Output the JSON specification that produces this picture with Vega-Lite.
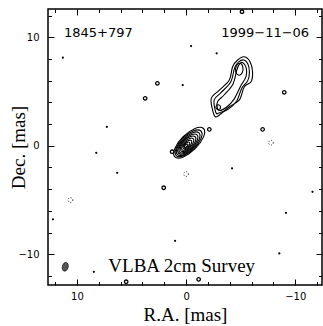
{
  "$schema": "https://vega.github.io/schema/vega-lite/v6.json",
  "width": 274,
  "height": 276,
  "autosize": "none",
  "padding": {"left": 48, "top": 9, "right": 1, "bottom": 41},
  "background": "white",
  "config": {
    "view": {"stroke": "black", "strokeWidth": 1.5},
    "axis": {"domain": false, "grid": false, "tickColor": "black", "tickWidth": 1, "labelFont": "DejaVu Sans", "labelFontSize": 10, "labelColor": "black", "titleFont": "Liberation Serif", "titleFontSize": 19, "titleFontWeight": "normal", "titleColor": "black"}
  },
  "datasets": {
    "contours": [
      {"c":"k1","i":0,"x":-0.14,"y":0.14},{"c":"k1","i":1,"x":-0.05,"y":0.15},{"c":"k1","i":2,"x":0.07,"y":0.07},{"c":"k1","i":3,"x":0.15,"y":-0.05},{"c":"k1","i":4,"x":0.14,"y":-0.14},{"c":"k1","i":5,"x":0.05,"y":-0.15},{"c":"k1","i":6,"x":-0.07,"y":-0.07},{"c":"k1","i":7,"x":-0.15,"y":0.05},
      {"c":"k2","i":0,"x":-0.31,"y":0.31},{"c":"k2","i":1,"x":-0.14,"y":0.32},{"c":"k2","i":2,"x":0.10,"y":0.16},{"c":"k2","i":3,"x":0.26,"y":-0.08},{"c":"k2","i":4,"x":0.25,"y":-0.25},{"c":"k2","i":5,"x":0.08,"y":-0.26},{"c":"k2","i":6,"x":-0.16,"y":-0.10},{"c":"k2","i":7,"x":-0.32,"y":0.14},
      {"c":"k3","i":0,"x":-0.48,"y":0.48},{"c":"k3","i":1,"x":-0.22,"y":0.49},{"c":"k3","i":2,"x":0.13,"y":0.25},{"c":"k3","i":3,"x":0.38,"y":-0.11},{"c":"k3","i":4,"x":0.37,"y":-0.37},{"c":"k3","i":5,"x":0.11,"y":-0.38},{"c":"k3","i":6,"x":-0.25,"y":-0.13},{"c":"k3","i":7,"x":-0.49,"y":0.22},
      {"c":"k4","i":0,"x":-0.65,"y":0.65},{"c":"k4","i":1,"x":-0.31,"y":0.67},{"c":"k4","i":2,"x":0.17,"y":0.34},{"c":"k4","i":3,"x":0.50,"y":-0.14},{"c":"k4","i":4,"x":0.48,"y":-0.48},{"c":"k4","i":5,"x":0.14,"y":-0.50},{"c":"k4","i":6,"x":-0.34,"y":-0.17},{"c":"k4","i":7,"x":-0.67,"y":0.31},
      {"c":"k5","i":0,"x":-0.83,"y":0.83},{"c":"k5","i":1,"x":-0.40,"y":0.85},{"c":"k5","i":2,"x":0.20,"y":0.44},{"c":"k5","i":3,"x":0.61,"y":-0.16},{"c":"k5","i":4,"x":0.59,"y":-0.59},{"c":"k5","i":5,"x":0.16,"y":-0.61},{"c":"k5","i":6,"x":-0.44,"y":-0.20},{"c":"k5","i":7,"x":-0.85,"y":0.40},
      {"c":"k6","i":0,"x":-1.00,"y":1.00},{"c":"k6","i":1,"x":-0.49,"y":1.02},{"c":"k6","i":2,"x":0.22,"y":0.53},{"c":"k6","i":3,"x":0.71,"y":-0.18},{"c":"k6","i":4,"x":0.69,"y":-0.69},{"c":"k6","i":5,"x":0.18,"y":-0.71},{"c":"k6","i":6,"x":-0.53,"y":-0.22},{"c":"k6","i":7,"x":-1.02,"y":0.49},
      {"c":"k7","i":0,"x":-1.18,"y":1.18},{"c":"k7","i":1,"x":-0.59,"y":1.20},{"c":"k7","i":2,"x":0.24,"y":0.62},{"c":"k7","i":3,"x":0.82,"y":-0.21},{"c":"k7","i":4,"x":0.80,"y":-0.80},{"c":"k7","i":5,"x":0.21,"y":-0.82},{"c":"k7","i":6,"x":-0.62,"y":-0.24},{"c":"k7","i":7,"x":-1.20,"y":0.59},
      {"c":"k8","i":0,"x":-1.36,"y":1.36},{"c":"k8","i":1,"x":-0.69,"y":1.38},{"c":"k8","i":2,"x":0.26,"y":0.72},{"c":"k8","i":3,"x":0.91,"y":-0.22},{"c":"k8","i":4,"x":0.90,"y":-0.90},{"c":"k8","i":5,"x":0.22,"y":-0.91},{"c":"k8","i":6,"x":-0.72,"y":-0.26},{"c":"k8","i":7,"x":-1.38,"y":0.69},
      {"c":"k9","i":0,"x":-1.59,"y":1.59},{"c":"k9","i":1,"x":-0.82,"y":1.60},{"c":"k9","i":2,"x":0.27,"y":0.83},{"c":"k9","i":3,"x":1.03,"y":-0.25},{"c":"k9","i":4,"x":1.03,"y":-1.03},{"c":"k9","i":5,"x":0.25,"y":-1.03},{"c":"k9","i":6,"x":-0.83,"y":-0.27},{"c":"k9","i":7,"x":-1.60,"y":0.82},
      {"c":"j1","i":0,"x":-5.33,"y":8.20},{"c":"j1","i":1,"x":-5.86,"y":7.74},{"c":"j1","i":2,"x":-6.09,"y":6.82},{"c":"j1","i":3,"x":-5.95,"y":5.90},{"c":"j1","i":4,"x":-5.33,"y":5.44},{"c":"j1","i":5,"x":-4.88,"y":4.22},{"c":"j1","i":6,"x":-3.96,"y":3.59},{"c":"j1","i":7,"x":-3.05,"y":2.83},{"c":"j1","i":8,"x":-2.68,"y":2.67},{"c":"j1","i":9,"x":-2.43,"y":3.29},{"c":"j1","i":10,"x":-2.31,"y":4.37},{"c":"j1","i":11,"x":-3.05,"y":5.13},{"c":"j1","i":12,"x":-3.96,"y":6.06},{"c":"j1","i":13,"x":-4.26,"y":7.28},{"c":"j1","i":14,"x":-4.72,"y":7.90},
      {"c":"j2","i":0,"x":-5.30,"y":7.90},{"c":"j2","i":1,"x":-5.65,"y":7.55},{"c":"j2","i":2,"x":-5.80,"y":6.80},{"c":"j2","i":3,"x":-5.65,"y":6.00},{"c":"j2","i":4,"x":-5.10,"y":5.30},{"c":"j2","i":5,"x":-4.65,"y":4.15},{"c":"j2","i":6,"x":-3.85,"y":3.35},{"c":"j2","i":7,"x":-3.05,"y":3.05},{"c":"j2","i":8,"x":-2.80,"y":2.95},{"c":"j2","i":9,"x":-2.65,"y":3.35},{"c":"j2","i":10,"x":-2.58,"y":4.25},{"c":"j2","i":11,"x":-3.20,"y":4.90},{"c":"j2","i":12,"x":-4.10,"y":5.90},{"c":"j2","i":13,"x":-4.45,"y":7.20},{"c":"j2","i":14,"x":-4.85,"y":7.75},
      {"c":"j3","i":0,"x":-5.20,"y":7.65},{"c":"j3","i":1,"x":-5.50,"y":7.20},{"c":"j3","i":2,"x":-5.50,"y":6.40},{"c":"j3","i":3,"x":-5.00,"y":5.50},{"c":"j3","i":4,"x":-4.40,"y":4.30},{"c":"j3","i":5,"x":-3.70,"y":3.55},{"c":"j3","i":6,"x":-3.05,"y":3.25},{"c":"j3","i":7,"x":-2.85,"y":3.55},{"c":"j3","i":8,"x":-2.90,"y":4.10},{"c":"j3","i":9,"x":-3.50,"y":4.70},{"c":"j3","i":10,"x":-4.30,"y":5.70},{"c":"j3","i":11,"x":-4.65,"y":7.00},{"c":"j3","i":12,"x":-4.90,"y":7.55},
      {"c":"j4","i":0,"x":-4.95,"y":7.60},{"c":"j4","i":1,"x":-5.20,"y":7.25},{"c":"j4","i":2,"x":-5.15,"y":6.75},{"c":"j4","i":3,"x":-4.85,"y":6.50},{"c":"j4","i":4,"x":-4.55,"y":6.80},{"c":"j4","i":5,"x":-4.60,"y":7.35},
      {"c":"j5","i":0,"x":-2.95,"y":3.78},{"c":"j5","i":1,"x":-3.15,"y":3.60},{"c":"j5","i":2,"x":-3.05,"y":3.35},{"c":"j5","i":3,"x":-2.80,"y":3.40},{"c":"j5","i":4,"x":-2.75,"y":3.65}
    ],
    "loops": [
      {"x":-5.12,"y":12.35},{"x":2.63,"y":5.75},{"x":3.75,"y":4.37},{"x":-8.99,"y":4.92},{"x":2.05,"y":-3.87},{"x":5.49,"y":-12.53},{"x":-1.15,"y":-12.31},{"x":-2.13,"y":1.51},{"x":1.28,"y":-0.55},{"x":-7.01,"y":1.51}
    ],
    "dots": [
      {"x":11.29,"y":8.11},{"x":-0.46,"y":9.19},{"x":-2.8,"y":8.52},{"x":0.31,"y":5.59},{"x":7.26,"y":1.75},{"x":8.23,"y":-0.65},{"x":6.31,"y":-2.49},{"x":-4.21,"y":-2.08},{"x":-11.58,"y":-4.24},{"x":-9.15,"y":-6.18},{"x":1.01,"y":-8.76},{"x":-8.54,"y":-9.92},{"x":8.45,"y":-11.61},{"x":12.2,"y":-6.78}
    ],
    "neg": [
      {"x":0.0,"y":-2.61},{"x":10.59,"y":-5.0},{"x":-7.78,"y":0.28}
    ],
    "heads": [
      {"x":8.04,"y":10.0,"text":"1845+797"},{"x":-7.24,"y":10.0,"text":"1999−11−06"}
    ],
    "survey": [
      {"x":0.4,"y":-11.61,"text":"VLBA 2cm Survey"}
    ],
    "beam": [
      {"x":11.07,"y":-11.15}
    ]
  },
  "layer": [
    {
      "data": {"name": "contours"},
      "mark": {"type": "line", "interpolate": "cardinal-closed", "stroke": "black", "strokeWidth": 1.1},
      "encoding": {
        "x": {"field": "x", "type": "quantitative", "scale": {"domain": [-12.45, 12.65], "reverse": true, "nice": false, "zero": false},
              "axis": {"orient": "bottom", "values": [-10, 0, 10], "tickSize": -6, "labelPadding": 12, "title": "R.A. [mas]", "titlePadding": 4}},
        "y": {"field": "y", "type": "quantitative", "scale": {"domain": [-12.83, 12.6], "nice": false, "zero": false},
              "axis": {"orient": "left", "values": [-10, 0, 10], "tickSize": -6, "labelPadding": 15, "title": "Dec. [mas]", "titlePadding": -11}},
        "detail": {"field": "c"},
        "order": {"field": "i", "type": "quantitative"}
      }
    },
    {
      "data": {"name": "loops"},
      "mark": {"type": "point", "shape": "circle", "filled": false, "stroke": "black", "strokeWidth": 1.3, "opacity": 1, "size": 12},
      "encoding": {
        "x": {"field": "x", "type": "quantitative", "scale": {"domain": [-12.45, 12.65], "reverse": true, "nice": false, "zero": false},
              "axis": {"orient": "top", "values": [-10, 0, 10], "tickSize": -6, "labels": false, "title": null}},
        "y": {"field": "y", "type": "quantitative", "scale": {"domain": [-12.83, 12.6], "nice": false, "zero": false},
              "axis": {"orient": "right", "values": [-10, 0, 10], "tickSize": -6, "labels": false, "title": null}}
      }
    },
    {
      "data": {"name": "dots"},
      "mark": {"type": "point", "shape": "circle", "filled": true, "fill": "black", "opacity": 1, "size": 5},
      "encoding": {
        "x": {"field": "x", "type": "quantitative", "scale": {"domain": [-12.45, 12.65], "reverse": true, "nice": false, "zero": false},
              "axis": {"orient": "bottom", "values": [-12, -8, -6, -4, -2, 2, 4, 6, 8, 12], "tickSize": -3.5, "labels": false, "title": null}},
        "y": {"field": "y", "type": "quantitative", "scale": {"domain": [-12.83, 12.6], "nice": false, "zero": false},
              "axis": {"orient": "left", "values": [-12, -8, -6, -4, -2, 2, 4, 6, 8, 12], "tickSize": -3.5, "labels": false, "title": null}}
      }
    },
    {
      "data": {"name": "neg"},
      "mark": {"type": "point", "shape": "circle", "filled": false, "stroke": "black", "strokeWidth": 0.8, "strokeDash": [1, 1.5], "opacity": 1, "size": 22},
      "encoding": {
        "x": {"field": "x", "type": "quantitative", "scale": {"domain": [-12.45, 12.65], "reverse": true, "nice": false, "zero": false},
              "axis": {"orient": "top", "values": [-12, -8, -6, -4, -2, 2, 4, 6, 8, 12], "tickSize": -3.5, "labels": false, "title": null}},
        "y": {"field": "y", "type": "quantitative", "scale": {"domain": [-12.83, 12.6], "nice": false, "zero": false},
              "axis": {"orient": "right", "values": [-12, -8, -6, -4, -2, 2, 4, 6, 8, 12], "tickSize": -3.5, "labels": false, "title": null}}
      }
    },
    {
      "data": {"name": "heads"},
      "mark": {"type": "text", "font": "DejaVu Sans", "fontSize": 13, "align": "center", "baseline": "alphabetic", "color": "black"},
      "encoding": {
        "x": {"field": "x", "type": "quantitative", "scale": {"domain": [-12.45, 12.65], "reverse": true, "nice": false, "zero": false}, "axis": null},
        "y": {"field": "y", "type": "quantitative", "scale": {"domain": [-12.83, 12.6], "nice": false, "zero": false}, "axis": null},
        "text": {"field": "text"}
      }
    },
    {
      "data": {"name": "survey"},
      "mark": {"type": "text", "font": "Liberation Serif", "fontSize": 19, "align": "center", "baseline": "alphabetic", "color": "black"},
      "encoding": {
        "x": {"field": "x", "type": "quantitative", "scale": {"domain": [-12.45, 12.65], "reverse": true, "nice": false, "zero": false}, "axis": null},
        "y": {"field": "y", "type": "quantitative", "scale": {"domain": [-12.83, 12.6], "nice": false, "zero": false}, "axis": null},
        "text": {"field": "text"}
      }
    },
    {
      "data": {"name": "beam"},
      "mark": {"type": "point", "shape": "M-0.65,0A0.65,1,0,1,1,0.65,0A0.65,1,0,1,1,-0.65,0Z", "filled": true, "fill": "#555555", "stroke": "black", "strokeWidth": 0.6, "opacity": 1, "size": 81, "angle": 15},
      "encoding": {
        "x": {"field": "x", "type": "quantitative", "scale": {"domain": [-12.45, 12.65], "reverse": true, "nice": false, "zero": false}, "axis": null},
        "y": {"field": "y", "type": "quantitative", "scale": {"domain": [-12.83, 12.6], "nice": false, "zero": false}, "axis": null}
      }
    }
  ],
  "resolve": {"axis": {"x": "independent", "y": "independent"}}
}
